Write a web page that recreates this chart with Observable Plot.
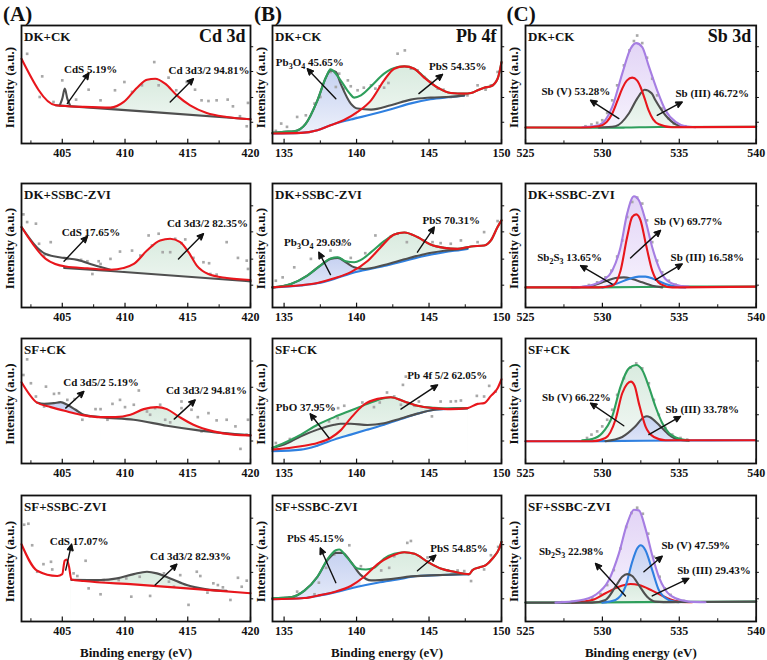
<!DOCTYPE html>
<html>
<head>
<meta charset="utf-8">
<script src="https://cdn.jsdelivr.net/npm/d3@7"></script>
<script src="https://cdn.jsdelivr.net/npm/@observablehq/plot@0.6"></script>
<style>
  body { margin: 0; background: #fff; }
  #fig { position: relative; width: 767px; height: 660px; overflow: hidden; background: #fff; }
  #fig svg { position: absolute; }
</style>
</head>
<body>
<svg width="0" height="0" style="position:absolute">
  <defs>
    <linearGradient id="fGreen" x1="0" y1="0" x2="0" y2="1">
      <stop offset="0" stop-color="#d9ebdf"/><stop offset="1" stop-color="#f8fbf9"/>
    </linearGradient>
    <linearGradient id="fBlue" x1="0" y1="0" x2="0" y2="1">
      <stop offset="0" stop-color="#c6d1f1"/><stop offset="1" stop-color="#f2f5fc"/>
    </linearGradient>
    <linearGradient id="fPurple" x1="0" y1="0" x2="0" y2="1">
      <stop offset="0" stop-color="#e2d4f6"/><stop offset="1" stop-color="#faf7fe"/>
    </linearGradient>
  </defs>
</svg>
<div id="fig"></div>
<script>
// ---- labels and axes ----
const treatments = ["DK+CK", "DK+SSBC-ZVI", "SF+CK", "SF+SSBC-ZVI"];
const elements = ["Cd 3d", "Pb 4f", "Sb 3d"];
const panelTags = ["(A)", "(B)", "(C)"];
const energyDomains = [[401.75, 420], [134.2, 150], [525, 540]];
const majorTicks = [[405, 410, 415, 420], [135, 140, 145, 150], [525, 530, 535, 540]];
const minorTicks = [[402.5, 407.5, 412.5, 417.5], [137.5, 142.5, 147.5], [527.5, 532.5, 537.5]];
const sideTicks = [18, 39, 61, 82];

// ---- Cd 3d, DK+CK ----
const A1_red = [[401.75,71.8],[404.47,32.4],[406.72,31.0],[408.84,30.4],[409.9,35.2],[410.96,47.3],[411.75,54.1],[412.41,54.9],[413.2,50.7],[414.13,40.8],[415.19,32.4],[416.51,25.9],[418.1,22.5],[420,20.6]];
const A1_base = [[404.47,32.4],[412,26.8],[420,20.6]];
const A1_cds = [[404.8,32.3],[405.0,38],[405.2,46.5],[405.4,38],[405.62,32.2]];
const A1_dots = [[402.2,76],[403.4,56.9],[403.2,39.4],[404.3,35.2],[405.0,53.5],[406.1,37.2],[407.1,45.6],[408.05,36.6],[409.2,45.1],[409.95,52.1],[410.56,43.7],[411.35,49.3],[412.33,69],[412.68,49.3],[413.47,55.8],[414.08,45.1],[414.92,52.1],[415.58,45.6],[416.1,36.6],[416.65,36],[417.3,36.6],[418.18,37.2],[418.6,31.5],[419.16,23.1],[419.7,14.6],[419.8,34.4]];
const A1_arrows = [[405.4,33.8,407.12,59.7],[413.6,35.2,415.45,54.9]];
const A1_labels = [[405.14,62.5,"CdS 5.19%"],[413.47,62,"Cd 3d3/2 94.81%"]];

// ---- Cd 3d, DK+SSBC-ZVI ----
const A2_red = [[401.75,64.9],[403.68,39.2],[405.27,33],[407.0,31.6],[408.84,30.5],[409.9,31.9],[410.7,35.1],[411.75,45.9],[412.8,54.1],[413.6,55.4],[414.4,52.7],[415.06,44.6],[415.72,33.8],[416.64,27],[418.1,23.8],[420,22.2]];
const A2_cds = [[401.75,64.9],[403.68,43.2],[405.14,40],[406.2,38.4],[407.5,34.3],[408.84,30.5]];
const A2_base = [[405.14,31.9],[408.84,29.4],[420,21.1]];
const A2_dots = [[401.9,75.1],[402.2,68.9],[402.9,67.6],[403.15,51.4],[404.08,52.7],[403.55,41.9],[405.4,39.2],[406.5,38.4],[407.0,37.3],[407.9,37.3],[408.05,35.1],[407.4,27],[408.84,39.2],[409.6,45.1],[410.56,45.9],[411.22,41.9],[411.88,58.1],[412.15,50],[412.68,59.5],[413.0,44.6],[413.6,44.6],[414.0,55.4],[414.5,51.9],[414.8,54.9],[415.45,40],[416.25,36.5],[416.7,35.7],[416.8,27],[417.3,26.5],[418.1,52.7],[419.0,40],[419.7,37.8],[419.8,31.1]];
const A2_arrows = [[405.14,37.3,407.0,57.3],[414.26,39.2,416.25,59.5]];
const A2_labels = [[404.95,60.8,"CdS 17.65%"],[413.34,68.1,"Cd 3d3/2 82.35%"]];

// ---- Cd 3d, SF+CK ----
const A3_red = [[401.75,65],[402.97,48.8],[404.08,45.1],[405.4,41.6],[406.72,38.5],[408.05,37.1],[409.24,37.1],[410.43,39],[411.49,43.5],[412.54,45.1],[413.34,43.5],[414.26,37.7],[415.45,31],[417.04,25.7],[418.63,23.1],[420,22.5]];
const A3_gray = [[402.97,48.8],[403.55,47.7],[404.34,48.3],[404.87,49.1],[405.4,47],[406.06,43],[406.72,39],[408.05,37.1],[410.7,35],[413.34,30.2],[416,26.3],[420,22.5]];
const A3_dots = [[402.2,83.3],[401.9,70.8],[402.5,64.2],[402.9,53.6],[403.55,45.6],[403.7,61.5],[404.34,55.7],[404.74,56.2],[405.4,50.9],[405.98,51.5],[406.6,35],[407.2,37.7],[407.65,43.5],[408.05,43.5],[408.6,35],[409.0,47.7],[409.6,50.9],[410.0,45.1],[410.7,47],[411.1,58.4],[411.75,41.6],[412.0,39],[412.4,44.3],[412.8,47],[413.2,35],[413.6,32.9],[414.5,44.3],[414.5,49.6],[415.3,43],[415.8,37.1],[416.1,25.7],[416.65,40.3],[417.3,34.5],[418.1,35],[418.8,29.7],[419.2,11.7],[419.7,23.1],[419.8,35]];
const A3_arrows = [[405.27,44.3,406.72,57.6],[413.92,35.5,415.59,50.9]];
const A3_labels = [[405.08,64.7,"Cd 3d5/2 5.19%"],[413.26,58.4,"Cd 3d3/2 94.81%"]];

// ---- Cd 3d, SF+SSBC-ZVI ----
const A4_red = [[401.75,61.3],[403.0,40.3],[404.6,36.1],[405.0,37.6],[405.19,48.2],[405.35,49.2],[405.54,43.4],[405.72,33.4],[406.72,32.1],[410.7,29.5],[416,25.5],[420,22.4]];
const A4_gray = [[405.72,33.0],[408.05,32.9],[409.37,34.2],[410.7,37.6],[411.75,39.5],[412.54,38.2],[413.6,34.2],[414.92,28.9],[416.5,25.5],[418.1,24.3]];
const A4_dots = [[401.96,76.8],[402.3,77.6],[402.6,60.5],[403.0,39.5],[403.5,45.5],[404.1,47.4],[404.2,41.3],[405.9,38.2],[406.2,36.1],[406.86,48.2],[407.1,26.3],[407.8,31.6],[408.05,21.6],[408.3,32.9],[409.5,32.9],[410.1,34.2],[410.5,19.7],[411.17,35.5],[412.0,20.3],[413.1,38.2],[413.5,31.6],[413.9,27.6],[414.4,36.8],[415.06,13.2],[415.72,39.5],[416,36.1],[416.57,22.9],[417.04,30.3],[417.4,28.9],[417.8,27.1],[418.4,17.1],[419,34.7],[419.3,27.6],[419.7,32.4]];
const A4_arrows = [[405.27,40.8,405.74,61.3],[412.4,28.9,414.13,45.5]];
const A4_labels = [[404.0,63.2,"CdS 17.07%"],[412.0,51.8,"Cd 3d3/2 82.93%"]];

// ---- Pb 4f, DK+CK ----
const B1_blue = [[134.2,8.5],[136.16,9],[137.3,11.3],[138.2,15.5],[139.6,20.3],[141.0,24.5],[142.37,29],[143.75,34],[145.1,37.5],[146.5,39.4],[147.43,40.6]];
const B1_gray = [[134.2,9],[135.0,9.9],[135.7,10.4],[136.5,16.9],[137.3,36.6],[137.9,56.3],[138.2,62],[138.57,60.6],[138.9,50.7],[139.6,33.8],[140.07,29.6],[141.0,28.7],[142.37,32.4],[143.75,37.2],[145.1,38.9],[146.5,39.6],[147.43,40.8]];
const B1_green = [[134.2,9],[135.0,9.9],[135.7,10.4],[136.5,16.9],[137.3,36.6],[137.9,56.3],[138.2,62.8],[138.9,53.5],[139.5,42.8],[139.84,38.9],[140.3,40.8],[141.0,48.5],[141.9,59.2],[142.83,64.8],[143.3,65.4],[143.98,63.4],[144.67,56.3],[145.6,47.3],[146.5,42.8],[147.43,42.3],[147.9,42.8],[148.35,45.1],[148.8,47.3],[149.27,48.5],[149.73,54.9],[150,69]];
const B1_red = [[134.2,8.5],[136.16,9],[137.3,11.3],[138.2,15.5],[139.1,19.7],[140.07,26.8],[141.0,36.6],[141.9,53.5],[142.6,63.4],[143.3,65.4],[143.98,63.4],[144.67,55.8],[145.6,47.3],[146.5,42.8],[147.43,42.3],[147.9,42.8],[148.35,45.1],[148.8,47.3],[149.27,48.5],[149.73,54.9],[150,69]];
const B1_dots = [[134.43,10.7],[134.8,16.9],[135.2,14.1],[135.9,22.5],[136.5,23.9],[137.1,33.8],[137.5,39.4],[138.2,60.6],[138.8,59.2],[138.57,47.9],[139.1,46.5],[139.4,53.5],[139.6,48.5],[140.07,45.1],[140.5,47.3],[141.0,49.3],[141.3,46.5],[141.6,48.5],[141.9,47.3],[142.2,51.3],[142.83,76.1],[143.33,78.9],[143.75,63.4],[144.2,62],[144.67,56.3],[145.1,52.1],[145.6,46.5],[146.0,45.6],[146.5,39.4],[147.1,41.7],[147.65,40.8],[148.35,49.3],[148.9,45.6],[149.27,49.3],[149.73,60.6]];
const B1_arrows = [[138.57,38,136.6,63.4],[144.3,42.3,145.93,58.6]];
const B1_labels = [[134.43,69,"Pb3O4 45.65%"],[145.0,65.4,"PbS 54.35%"]];

// ---- Pb 4f, DK+SSBC-ZVI ----
const B2_blue = [[134.2,16.2],[136.16,17.8],[137.3,19.5],[138.46,23],[139.6,27.5],[140.5,30],[141.9,33.5],[143.3,37.6],[144.67,41.6],[146.05,44.6],[147.2,46.5],[147.66,47.3]];
const B2_gray = [[134.2,16.2],[135.47,18.9],[136.6,25.7],[137.5,33.8],[138.2,39.2],[138.7,40],[139.26,36.5],[139.84,32.4],[140.5,31.1],[141.9,34.3],[143.3,38.9],[144.67,43.0],[146.05,45.7],[147.2,47.3],[147.66,48.1]];
const B2_green = [[134.2,16.2],[135.47,18.9],[136.6,25.7],[137.5,33.8],[138.2,39.5],[138.7,40.5],[139.26,37.3],[139.84,36.5],[140.3,38.4],[141.0,44.6],[141.9,53.5],[142.6,58.9],[143.3,60.5],[144.2,56.8],[145.1,50.8],[146.05,48.1],[146.96,47.3],[147.9,49.2],[148.8,50],[149.27,54.1],[149.73,64.9],[150,70.3]];
const B2_red = [[134.2,16.2],[136.16,17.9],[137.3,19.8],[138.46,23.5],[139.6,28.5],[140.76,37.5],[141.67,48.6],[142.6,58.9],[143.3,60.5],[144.2,56.8],[145.1,50.8],[146.05,48.1],[146.96,47.3],[147.9,49.2],[148.8,50],[149.27,54.1],[149.73,64.9],[150,70.3]];
const B2_dots = [[134.43,21.6],[134.9,24.3],[135.7,32.4],[136.85,39.2],[138.2,45.9],[139.0,50.8],[139.6,40],[140.6,43.8],[141.3,58.1],[141.67,50],[142.37,57.3],[142.83,59.5],[143.47,52.7],[144.67,54.1],[145.24,52.7],[145.8,51.9],[146.5,51.4],[147.2,54.1],[148.35,52.7],[148.8,60.8],[149.73,69.7]];
const B2_arrows = [[138.2,26.5,137.4,44.6],[144.2,44.6,145.36,64.9]];
const B2_labels = [[135.0,52.7,"Pb3O4 29.69%"],[144.55,70.3,"PbS 70.31%"]];

// ---- Pb 4f, SF+CK ----
const B3_blue = [[134.2,9.8],[136.16,11.1],[137.3,14.3],[138.46,19.1],[139.6,23.1],[140.76,27.1],[141.9,31],[143.06,35.5],[144.2,39.8],[145.36,43],[146.5,43.8],[147.66,44.3]];
const B3_gray = [[134.2,12.5],[135.0,15.1],[136.16,21.8],[137.3,27.1],[138.46,31],[138.9,31.8],[139.6,31.8],[140.76,30.8],[141.9,32.2],[143.06,36],[144.2,39.9],[145.36,43],[146.5,43.9],[147.66,44.3]];
const B3_green = [[134.2,12.5],[135.0,16.4],[136.16,23.1],[137.3,31],[138.46,37.1],[139.6,42.4],[140.76,47.7],[141.9,52.3],[142.37,53],[143.3,49.6],[144.2,46.2],[145.36,44.5],[146.5,44],[147.66,44.3]];
const B3_red = [[134.2,11.1],[136.16,13.8],[137.3,16.4],[138.2,20.4],[138.9,26.5],[139.6,36.3],[140.5,47],[141.45,51.7],[142.37,53],[143.3,49.6],[144.2,46.2],[145.36,44.3],[146.5,43.5],[147.66,44.3],[148.35,47.7],[148.8,48.3],[149.27,54.1],[149.73,60.2],[150,67.4]];
const B3_dots = [[134.43,16.4],[135.4,19.6],[135.65,19.6],[138.1,33.7],[138.7,36.3],[138.73,44.3],[139.15,46.2],[140.4,48.8],[141.2,45.1],[141.6,48.8],[142.1,56.8],[142.6,53.6],[143.06,47],[143.2,62.9],[143.4,69.5],[144.0,46.2],[144.3,49.6],[145.2,37.7],[145.8,49.6],[146.5,49.6],[146.85,49.8],[147.2,50.4],[148.3,54.1],[148.8,53.6],[149.15,62.1],[149.6,57.6]];
const B3_arrows = [[138.1,20.4,136.8,39.8],[143.06,43.5,145.59,62.9]];
const B3_labels = [[134.43,45.1,"PbO 37.95%"],[143.5,70.8,"Pb 4f 5/2 62.05%"]];

// ---- Pb 4f, SF+SSBC-ZVI ----
const B4_blue = [[134.2,17.6],[136.16,18.4],[137.3,20.3],[138.7,23.7],[140.07,27.6],[141.45,30.8],[142.83,33.4],[144.2,36.1],[145.6,36.8],[146.97,37.4],[147.77,37.6]];
const B4_gray = [[134.2,18.4],[135.47,19.2],[136.4,24.5],[137.3,35.5],[138.0,48.7],[138.57,54.5],[139.03,54.5],[139.6,47.4],[140.3,36.8],[141.0,32.6],[142.37,33.6],[143.75,35.8],[145.1,36.6],[146.5,37.2],[147.77,37.6]];
const B4_green = [[134.2,18.4],[135.47,19.2],[136.4,24.5],[137.3,35.5],[138.0,49.5],[138.57,56.5],[138.8,57.1],[139.37,50.5],[140.07,42.1],[140.64,41.3],[141.2,42.6],[141.9,50],[142.6,53.7],[143.3,55],[144.0,53.7],[144.9,47.4],[145.8,42.1],[146.74,39.5],[147.77,37.6],[148.0,40.8],[148.46,42.9],[148.92,44.7],[149.38,50],[149.84,57.9],[150,63.2]];
const B4_red = [[134.2,17.6],[136.4,18.6],[137.3,20.5],[138.46,23.5],[139.6,28.2],[140.5,35.3],[141.45,45.5],[142.37,51.8],[143.3,55],[144.0,53.7],[144.9,47.4],[145.8,42.1],[146.74,39.5],[147.77,37.6],[148.0,40.8],[148.46,42.9],[148.92,44.7],[149.38,50],[149.84,57.9],[150,63.2]];
const B4_dots = [[135.4,19.2],[135.9,23.7],[137.1,21.6],[137.4,30.8],[137.9,42.6],[138.46,53.2],[139.5,60.5],[140.3,43.9],[141.7,40.5],[142.25,42.6],[142.6,51.8],[143.5,62.4],[143.75,63.9],[144.9,50.8],[146.3,40.5],[146.97,40.5],[147.43,40],[147.9,32.1],[148.8,41.3],[149.27,52.6],[149.77,59.2]];
const B4_arrows = [[138.57,30.8,137.5,58.4],[144.2,40.3,145.47,52.6]];
const B4_labels = [[135.2,65.8,"PbS 45.15%"],[145.08,57.9,"PbS 54.85%"]];

// ---- Sb 3d, DK+CK ----
const C1_base = [[525,13.5],[529.77,13.3],[531.5,13.5],[533.67,14.0],[540,14.1]];
const C1_red = [[525,13.5],[528.7,13.5],[529.77,14.6],[530.3,18.5],[530.64,25.4],[531.0,37],[531.29,46.5],[531.6,53.5],[531.94,55.8],[532.25,53.5],[532.48,47.9],[532.75,38],[533.0,28.2],[533.3,20.5],[533.67,16.3],[534.54,13.8],[540,14.1]];
const C1_gray = [[529.77,13.5],[530.85,14.6],[531.72,25.4],[532.26,38],[532.75,45.6],[533.2,42.5],[533.45,36.6],[534.1,23.9],[534.76,16.3],[535.4,14.1]];
const C1_env = [[528.7,13.8],[529.77,15.5],[530.64,31],[531.29,59.2],[531.83,80.3],[532.2,85.1],[532.59,81.7],[533.0,66.2],[533.56,45.1],[534.1,28.2],[534.76,18.3],[535.4,14.6],[536.06,13.8]];
const C1_dots = [[528.9,14.6],[529.29,16.1],[529.66,17.5],[529.99,19.7],[530.31,25.9],[530.64,36.6],[530.96,49.3],[531.4,66.2],[531.76,78.9],[532.05,86.8],[532.26,91.5],[532.59,85.1],[532.9,72.7],[533.24,54.9],[533.56,40.8],[533.89,29.6],[534.32,21.1],[534.65,16.9],[535.02,15.5],[535.4,14.6]];
const C1_arrows = [[531.07,21.1,529.23,36.6],[533.56,23.9,535.19,35.2]];
const C1_labels = [[526.04,44.5,"Sb (V) 53.28%"],[534.75,42.3,"Sb (III) 46.72%"]];

// ---- Sb 3d, DK+SSBC-ZVI ----
const C2_base = [[525,16.2],[529.77,16.2],[535.4,16.8],[540,16.8]];
const C2_red = [[525,16.2],[529.77,16.2],[530.64,17.6],[531.18,29.7],[531.61,56.8],[531.94,73],[532.2,75.1],[532.48,70.3],[532.8,52.7],[533.24,29.7],[533.78,18.9],[534.54,16.2],[540,16.8]];
const C2_env = [[528.03,16.2],[529.12,17.6],[530.0,21.6],[530.64,29.7],[531.18,48.6],[531.61,75.7],[532.05,89.7],[532.37,86.5],[532.8,70.3],[533.24,48.6],[533.67,32.4],[534.1,23],[534.76,18.4],[535.6,16.8]];
const C2_gray = [[528.03,16.2],[529.34,17.6],[530.2,21.1],[530.85,23.8],[531.4,24.3],[531.94,23],[532.59,20.3],[533.24,17.6],[533.89,16.2]];
const C2_blue = [[530.0,16.2],[530.85,18.9],[531.72,23],[532.37,24.9],[532.8,24.9],[533.35,23],[534.1,18.9],[534.76,16.8],[535.4,16.2]];
const C2_dots = [[529.12,18.1],[529.66,20.3],[530.2,24.3],[530.59,29.7],[530.96,41.1],[531.29,54.1],[531.61,73],[531.94,85.1],[532.26,88.6],[532.59,83.8],[532.9,70.3],[533.24,52.7],[533.56,37.8],[533.89,28.4],[534.32,21.6],[534.76,18.4],[535.19,17]];
const C2_arrows = [[531.83,40,533.78,62.2],[530.64,18.9,528.58,33.8],[533.45,22.2,535.19,35.1]];
const C2_labels = [[533.35,69.7,"Sb (V) 69.77%"],[525.76,40,"Sb2S3 13.65%"],[534.43,40,"Sb (III) 16.58%"]];

// ---- Sb 3d, SF+CK ----
const C3_base = [[525,17.8],[530,17.9],[535,18.4],[540,18.6]];
const C3_red = [[525,17.8],[529.34,17.8],[530.2,20.4],[530.85,35],[531.29,56.2],[531.6,63.5],[531.85,65.5],[532.1,62],[532.37,48.3],[532.8,29.7],[533.35,21.2],[534.1,18.6],[540,18.6]];
const C3_gray = [[530.2,17.8],[531.29,21.2],[532.15,29.7],[532.7,37.1],[532.9,37.8],[533.1,37.0],[533.67,31],[534.32,23.1],[534.97,19.1],[535.62,18.3]];
const C3_env = [[528.69,18.6],[529.34,19.6],[529.99,24.4],[530.64,37.7],[531.18,61.5],[531.72,76.1],[532.2,78.8],[532.59,74.8],[533.02,61.5],[533.45,45.6],[533.89,32.4],[534.32,24.4],[534.86,20.4],[535.51,18.6]];
const C3_dots = [[529.0,20.4],[529.29,23.1],[529.66,25.7],[529.99,29.7],[530.31,35],[530.64,43],[530.96,54.9],[531.4,68.2],[531.83,76.9],[532.2,80.1],[532.59,76.1],[533.02,64.2],[533.35,50.9],[533.67,39],[534.1,28.4],[534.54,23.1],[535.08,20.4],[535.51,19.1]];
const C3_arrows = [[531.39,30.2,529.23,48.3],[533.02,23.1,535.08,37.7]];
const C3_labels = [[526.08,53,"Sb (V) 66.22%"],[534.1,43.5,"Sb (III) 33.78%"]];

// ---- Sb 3d, SF+SSBC-ZVI ----
const C4_base = [[525,15],[530,15.2],[535,15.6],[540,15.8]];
const C4_red = [[528.03,15],[529.34,17.1],[530.2,22.4],[531.07,27.6],[531.83,29.7],[532.37,28.9],[533.24,24.5],[534.1,19.2],[534.97,15.8],[535.84,15.3]];
const C4_gray = [[525,15],[529.34,15],[530.2,17.1],[530.85,27.6],[531.29,35.5],[531.61,37.6],[531.94,36.1],[532.37,28.9],[532.91,19.7],[533.45,15.8],[534.5,15.4],[540,15.8]];
const C4_blue = [[529.99,15],[530.85,17.1],[531.5,27.6],[531.94,47.4],[532.26,57.9],[532.48,60.5],[532.8,56.6],[533.24,40.8],[533.67,25],[534.32,17.1],[534.97,15.3]];
const C4_env = [[526.95,15],[528.47,16.6],[529.55,21.1],[530.42,32.9],[531.07,53.9],[531.61,77.6],[532.05,88.7],[532.37,88.2],[532.8,73.7],[533.24,52.6],[533.67,35.5],[534.1,25],[534.76,18.4],[535.62,15.8],[536.7,15.3]];
const C4_dots = [[527.38,15.3],[528.03,15.5],[528.69,16.3],[529.34,18.4],[529.88,21.8],[530.31,28.9],[530.74,40.8],[531.18,57.9],[531.55,75],[531.89,86.1],[532.26,90.3],[532.63,85.5],[532.98,69.7],[533.35,51.3],[533.72,35.5],[534.06,26.3],[534.43,21.1],[534.86,17.6],[535.3,16.3]];
const C4_arrows = [[531.5,20.3,529.55,46.1],[532.7,39.5,533.89,51.8],[533.24,20.3,535.62,34.2]];
const C4_labels = [[525.87,55.3,"Sb2S3 22.98%"],[533.84,60.5,"Sb (V) 47.59%"],[534.86,40.8,"Sb (III) 29.43%"]];

// ---- styling ----
const RED = "#e8161c", GRAY = "#4f4f4f", GREEN = "#2f9f5c", BLUE = "#2f80e0", PURPLE = "#a67ee2";
const FG = "url(#fGreen)", FB = "url(#fBlue)", FP = "url(#fPurple)", W = "#ffffff";
const FONT = "'Liberation Serif', 'Times New Roman', serif";

// frame boxes of each column / row on the page
const COLS = [{x0: 21, x1: 250}, {x0: 271.7, x1: 500.7}, {x0: 525, x1: 755.7}];
const ROWS = [{y0: 25, y1: 143}, {y0: 183, y1: 307}, {y0: 338, y1: 463}, {y0: 495, y1: 621}];

// fills: [curve, from, to, paint] painted in order; lines painted in order
const specs = [
  {col:0,row:0, fills:[[A1_red,408.8,420,FG],[A1_base,404.47,420,W]], lines:[[A1_base,GRAY],[A1_cds,GRAY],[A1_red,RED]], dots:A1_dots, arrows:A1_arrows, labels:A1_labels},
  {col:0,row:1, fills:[[A2_red,409.3,418.5,FG],[A2_base,405.14,420,W]], lines:[[A2_base,GRAY],[A2_cds,GRAY],[A2_red,RED]], dots:A2_dots, arrows:A2_arrows, labels:A2_labels},
  {col:0,row:2, fills:[[A3_gray,402.97,406.72,FB],[A3_red,401.75,408.05,W],[A3_red,408.05,418.63,FG],[A3_gray,408.05,420,W]], lines:[[A3_gray,GRAY],[A3_red,RED]], dots:A3_dots, arrows:A3_arrows, labels:A3_labels},
  {col:0,row:3, fills:[[A4_gray,405.72,418.1,FG],[A4_red,405.72,420,W]], lines:[[A4_gray,GRAY],[A4_red,RED]], dots:A4_dots, arrows:A4_arrows, labels:A4_labels},
  {col:1,row:0, fills:[[B1_red,139.1,147.43,FG],[B1_gray,139.6,147.43,W],[B1_gray,135.7,140.07,FB],[B1_blue,134.2,147.43,W]], lines:[[B1_blue,BLUE],[B1_gray,GRAY],[B1_green,GREEN],[B1_red,RED]], dots:B1_dots, arrows:B1_arrows, labels:B1_labels},
  {col:1,row:1, fills:[[B2_red,139.6,147.66,FG],[B2_gray,139.84,147.66,W],[B2_gray,135.47,140.5,FB],[B2_blue,134.2,147.66,W]], lines:[[B2_blue,BLUE],[B2_gray,GRAY],[B2_green,GREEN],[B2_red,RED]], dots:B2_dots, arrows:B2_arrows, labels:B2_labels},
  {col:1,row:2, fills:[[B3_green,135,147.66,FG],[B3_blue,134.2,147.66,W]], lines:[[B3_blue,BLUE],[B3_gray,GRAY],[B3_green,GREEN],[B3_red,RED]], dots:B3_dots, arrows:B3_arrows, labels:B3_labels},
  {col:1,row:3, fills:[[B4_red,139.6,147.77,FG],[B4_gray,140.3,147.77,W],[B4_gray,135.47,140.64,FB],[B4_blue,134.2,147.77,W]], lines:[[B4_blue,BLUE],[B4_gray,GRAY],[B4_green,GREEN],[B4_red,RED]], dots:B4_dots, arrows:B4_arrows, labels:B4_labels},
  {col:2,row:0, fills:[[C1_env,528.7,536.06,FP],[C1_gray,529.77,535.4,FG],[C1_base,525,540,W]], lines:[[C1_base,GREEN],[C1_gray,GRAY],[C1_env,PURPLE],[C1_red,RED]], dots:C1_dots, arrows:C1_arrows, labels:C1_labels},
  {col:2,row:1, fills:[[C2_env,528.03,535.6,FP],[C2_base,525,540,W]], lines:[[C2_base,GREEN],[C2_gray,GRAY],[C2_blue,BLUE],[C2_env,PURPLE],[C2_red,RED]], dots:C2_dots, arrows:C2_arrows, labels:C2_labels},
  {col:2,row:2, fills:[[C3_env,528.69,535.51,FG],[C3_gray,530.2,535.62,FB],[C3_base,525,540,W]], lines:[[C3_base,BLUE],[C3_gray,GRAY],[C3_env,GREEN],[C3_red,RED]], dots:C3_dots, arrows:C3_arrows, labels:C3_labels},
  {col:2,row:3, fills:[[C4_env,526.95,536.7,FP],[C4_blue,529.99,534.97,FB],[C4_red,528.03,535.84,FG],[C4_base,525,540,W]], lines:[[C4_base,GREEN],[C4_red,RED],[C4_blue,BLUE],[C4_gray,GRAY],[C4_env,PURPLE]], dots:C4_dots, arrows:C4_arrows, labels:C4_labels}
];

const X = d => d[0], Y = d => d[1];
const SVGNS = "http://www.w3.org/2000/svg";

// chemical formulas get real subscripts
function subscripts(svg) {
  svg.querySelectorAll("text").forEach(t => {
    const m = t.textContent.match(/^(Pb|Sb)(\d)(O|S)(\d)(.*)$/);
    if (!m) return;
    t.textContent = "";
    const parts = [[m[1], 0], [m[2], 1], [m[3], 0], [m[4], 1], [m[5], 0]];
    for (const [s, sub] of parts) {
      const ts = document.createElementNS(SVGNS, "tspan");
      ts.textContent = s;
      if (sub) { ts.setAttribute("font-size", "8"); ts.setAttribute("dy", "3"); }
      else if (t.childNodes.length) ts.setAttribute("dy", "-3");
      t.appendChild(ts);
    }
  });
}

// turn the open arrow heads into solid triangles
function solidHeads(svg) {
  svg.querySelectorAll('g[aria-label="arrow"] path').forEach(p => {
    const n = (p.getAttribute("d") || "").match(/-?\d*\.?\d+(?:e-?\d+)?/g);
    if (!n || n.length < 10) return;
    const v = n.slice(-6).map(Number);
    const tri = document.createElementNS(SVGNS, "path");
    tri.setAttribute("d", `M${v[0]},${v[1]}L${v[2]},${v[3]}L${v[4]},${v[5]}Z`);
    tri.setAttribute("fill", "#111");
    tri.setAttribute("stroke", "#111");
    tri.setAttribute("stroke-width", "0.8");
    tri.setAttribute("stroke-linejoin", "miter");
    p.parentNode.appendChild(tri);
  });
}

const fig = document.getElementById("fig");

for (const s of specs) {
  const c = COLS[s.col], r = ROWS[s.row];
  const dom = energyDomains[s.col];
  const mL = 26, mR = 10, mT = 4, mB = s.row === 3 ? 44 : 22;
  const fw = c.x1 - c.x0, fh = r.y1 - r.y0;
  const marks = [];
  for (const [data, lo, hi, paint] of s.fills) {
    marks.push(Plot.areaY(data.filter(d => d[0] >= lo && d[0] <= hi), {x: X, y: Y, curve: "monotone-x", fill: paint}));
  }
  // short inward ticks on the energy axis, short outward ticks on the right edge
  marks.push(Plot.ruleX(majorTicks[s.col], {x: d => d, y1: 0, y2: 3.5, stroke: "#111", strokeWidth: 1.2}));
  marks.push(Plot.ruleX(minorTicks[s.col], {x: d => d, y1: 0, y2: 2.2, stroke: "#111", strokeWidth: 1}));
  marks.push(Plot.ruleY(sideTicks, {y: d => d, x1: dom[1], x2: dom[1] + (dom[1] - dom[0]) * 0.014, stroke: "#111", strokeWidth: 1}));
  marks.push(Plot.dot(s.dots, {x: X, y: Y, symbol: "square", r: 1.5, fill: "#a8a8a8"}));
  for (const [data, color] of s.lines) {
    marks.push(Plot.line(data, {x: X, y: Y, curve: "monotone-x", stroke: color, strokeWidth: 2.1}));
  }
  marks.push(Plot.arrow(s.arrows, {x1: d => d[0], y1: d => d[1], x2: d => d[2], y2: d => d[3], stroke: "#111", strokeWidth: 1.4, headLength: 7, headAngle: 50}));
  marks.push(Plot.text(s.labels, {x: X, y: Y, text: d => d[2], textAnchor: "start", lineAnchor: "middle", fontSize: 11, fontWeight: "bold", fill: "#111"}));
  marks.push(Plot.text([treatments[s.row]], {frameAnchor: "top-left", textAnchor: "start", lineAnchor: "top", dx: 2.5, dy: 6, fontSize: 13, fontWeight: "bold", fill: "#111"}));
  if (s.row === 0) {
    marks.push(Plot.text([elements[s.col]], {frameAnchor: "top-right", textAnchor: "end", lineAnchor: "top", dx: -5, dy: 4, fontSize: 18, fontWeight: "bold", fill: "#111"}));
  }
  marks.push(Plot.text(["Intensity (a.u.)"], {frameAnchor: "left", textAnchor: "middle", rotate: -90, dx: -12, dy: 3, fontSize: 13, fontWeight: "bold", fill: "#111"}));
  if (s.row === 3) {
    marks.push(Plot.text(["Binding energy (eV)"], {frameAnchor: "bottom", textAnchor: "middle", lineAnchor: "middle", dy: 31, fontSize: 13, fontWeight: "bold", fill: "#111"}));
  }
  marks.push(Plot.frame({stroke: "#111", strokeWidth: 1.8}));

  const svg = Plot.plot({
    width: fw + mL + mR,
    height: fh + mT + mB,
    marginLeft: mL, marginRight: mR, marginTop: mT, marginBottom: mB,
    x: {domain: dom, ticks: majorTicks[s.col], tickSize: 0, tickPadding: 5, label: null},
    y: {domain: [0, 100], axis: null},
    style: {background: "transparent", fontFamily: FONT, fontSize: "12px", fontWeight: "bold", color: "#111", overflow: "visible"},
    marks
  });
  subscripts(svg);
  solidHeads(svg);
  svg.style.position = "absolute";
  svg.style.left = (c.x0 - mL) + "px";
  svg.style.top = (r.y0 - mT) + "px";
  fig.appendChild(svg);
}

// column tags
const tagSvg = document.createElementNS(SVGNS, "svg");
tagSvg.setAttribute("width", 767);
tagSvg.setAttribute("height", 30);
tagSvg.style.left = "0px";
tagSvg.style.top = "0px";
const tagX = [3, 254, 506.5];
panelTags.forEach((t, i) => {
  const el = document.createElementNS(SVGNS, "text");
  el.setAttribute("x", tagX[i]);
  el.setAttribute("y", 21);
  el.setAttribute("font-family", FONT);
  el.setAttribute("font-weight", "bold");
  el.setAttribute("font-size", "21");
  el.setAttribute("fill", "#111");
  el.textContent = t;
  tagSvg.appendChild(el);
});
fig.appendChild(tagSvg);
</script>
</body>
</html>
